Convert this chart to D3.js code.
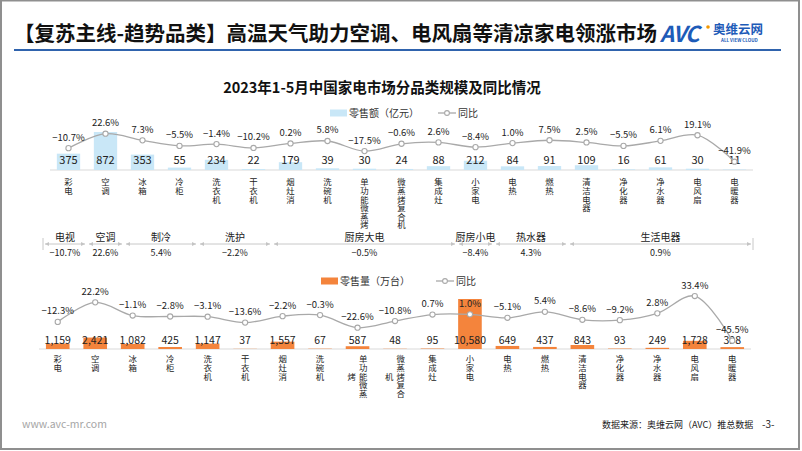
<!DOCTYPE html>
<html><head><meta charset="utf-8">
<script src="https://cdn.jsdelivr.net/npm/d3@7"></script>
<style>
body{margin:0;background:#fff}
svg{display:block}
text{font-family:"Noto Sans CJK SC","Noto Sans",sans-serif}
.vt{writing-mode:vertical-rl;text-orientation:upright}
</style>
</head><body>
<svg id="c" width="802" height="451"></svg>
<script>
// ---------------- DATA ----------------
const categories = ["彩电","空调","冰箱","冷柜","洗衣机","干衣机","烟灶消","洗碗机","单功能微蒸烤","微蒸烤复合机","集成灶","小家电","电热","燃热","清洁电器","净化器","净水器","电风扇","电暖器"];
const retailValue = [375,872,353,55,234,22,179,39,30,24,88,212,84,91,109,16,61,30,11];          // 零售额（亿元）
const retailValueYoY = [-10.7,22.6,7.3,-5.5,-1.4,-10.2,0.2,5.8,-17.5,-0.6,2.6,-8.4,1.0,7.5,2.5,-5.5,6.1,19.1,-41.9];
const retailVolume = [1159,2421,1082,425,1147,37,1557,67,587,48,95,10580,649,437,843,93,249,1728,398]; // 零售量（万台）
const retailVolumeYoY = [-12.3,22.2,-1.1,-2.8,-3.1,-13.6,-2.2,-0.3,-22.6,-10.8,0.7,1.0,-5.1,5.4,-8.6,-9.2,2.8,33.4,-45.5];
const groupNames = ["电视","空调","制冷","洗护","厨房大电","厨房小电","热水器","生活电器"];
const groupSizes = [1,1,2,2,5,1,2,5];
const groupYoY = [-10.7,22.6,5.4,-2.2,-0.5,-8.4,4.3,0.9];

const titleText = "【复苏主线-趋势品类】高温天气助力空调、电风扇等清凉家电领涨市场";
const chartTitle = "2023年1-5月中国家电市场分品类规模及同比情况";

// ---------------- STYLE ----------------
const C = {blue:"#c9e7f7", orange:"#f4843c", line:"#a9a9a9", text:"#333", brand:"#1f4fa0"};

const svg = d3.select("#c");
svg.append("rect").attr("x",1).attr("y",0.5).attr("width",798).attr("height",448.5)
  .attr("fill","none").attr("stroke","#8f8f8f").attr("stroke-width",2);

// header
svg.append("text").attr("x",14).attr("y",41).attr("font-size",20.5).attr("font-weight",700)
  .attr("fill","#111").text(titleText);
svg.append("line").attr("x1",14).attr("x2",781).attr("y1",50).attr("y2",50)
  .attr("stroke","#2f63ad").attr("stroke-width",2);
// logo
svg.append("text").attr("x",660).attr("y",42).attr("font-size",22).attr("font-weight",700)
  .attr("font-style","italic").attr("font-family","Liberation Sans, sans-serif")
  .attr("fill","#1d5bb8").attr("letter-spacing",-1).text("AVC");
svg.append("circle").attr("cx",708).attr("cy",27).attr("r",1.8).attr("fill","#f39800");
svg.append("text").attr("x",713).attr("y",34).attr("font-size",12.5).attr("font-weight",700)
  .attr("fill","#1d5bb8").text("奥维云网");
svg.append("text").attr("x",721).attr("y",42).attr("font-size",4.5).attr("font-weight",700)
  .attr("font-family","Liberation Sans, sans-serif").attr("fill","#1d5bb8").text("ALL VIEW CLOUD");

// chart title
svg.append("text").attr("x",382).attr("y",93).attr("text-anchor","middle").attr("font-size",14.5)
  .attr("font-weight",700).attr("fill","#111").text(chartTitle);

// footer
svg.append("text").attr("x",22).attr("y",428).attr("font-size",10.5).attr("fill","#a6a6a6")
  .attr("font-family","Open Sans, sans-serif").text("www.avc-mr.com");
svg.append("text").attr("x",602).attr("y",428).attr("font-size",9).attr("fill","#222")
  .text("数据来源：奥维云网（AVC）推总数据");
svg.append("text").attr("x",762).attr("y",428).attr("font-size",10).attr("fill","#222").text("-3-");

// ---------------- helpers ----------------
const VFS = 8.4, VSTEP = 8.6;
function vLabel(g, x, y0, str, maxRows, colGap){
  const chars = Array.from(str);
  const cols = [];
  for(let i=0;i<chars.length;i+=maxRows) cols.push(chars.slice(i,i+maxRows).join(""));
  const nc = cols.length, rows = Math.min(chars.length,maxRows);
  cols.forEach((col,ci)=>{
    const cx = x + ((nc-1)/2 - ci)*colGap;
    const off = (rows - Array.from(col).length)/2;
    g.append("text").attr("class","vt").attr("x",cx).attr("y",y0+off*VSTEP)
      .attr("letter-spacing",VSTEP-VFS).text(col);
  });
}

function panel(opt){
  const x = d3.scaleBand().domain(categories).range(opt.xr).paddingInner(0.37).paddingOuter(0.185);
  const yb = d3.scaleLinear().domain(opt.barDomain).range(opt.barRange);
  const yl = d3.scaleLinear().domain(opt.lineDomain).range(opt.lineRange);
  const g = svg.append("g");
  // baseline axis
  g.append("line").attr("x1",opt.xr[0]).attr("x2",opt.xr[1]).attr("y1",yb(0)).attr("y2",yb(0))
    .attr("stroke","#d9d9d9").attr("stroke-width",1);
  // bars
  g.selectAll("rect.bar").data(categories).join("rect").attr("class","bar")
    .attr("x",d=>x(d)).attr("width",x.bandwidth())
    .attr("y",(d,i)=>yb(opt.bars[i])).attr("height",(d,i)=>yb(0)-yb(opt.bars[i]))
    .attr("fill",opt.color);
  // bar value labels
  g.selectAll("text.bv").data(categories).join("text").attr("class","bv")
    .attr("x",d=>x(d)+x.bandwidth()/2).attr("y",opt.valueY).attr("text-anchor","middle")
    .attr("font-size",opt.valueFs).attr("fill","#222")
    .text((d,i)=>d3.format(",")(opt.bars[i]));
  // line
  const pts = categories.map((d,i)=>[x(d)+x.bandwidth()/2, yl(opt.yoy[i])]);
  g.append("path").attr("d",d3.line().curve(d3.curveCatmullRom.alpha(0.5))(pts))
    .attr("fill","none").attr("stroke",C.line).attr("stroke-width",1.3);
  g.selectAll("circle.pt").data(pts).join("circle").attr("class","pt")
    .attr("cx",d=>d[0]).attr("cy",d=>d[1]).attr("r",2.6)
    .attr("fill","#fff").attr("stroke",C.line).attr("stroke-width",1.1);
  g.selectAll("text.yl").data(pts).join("text").attr("class","yl")
    .attr("x",d=>d[0]).attr("y",d=>d[1]-7.5).attr("text-anchor","middle")
    .attr("font-size",9.5).attr("fill","#222")
    .text((d,i)=>d3.format(".1f")(opt.yoy[i])+"%");
  // category labels
  const lg = g.append("g").attr("font-size",VFS).attr("fill","#222");
  categories.forEach(d=>vLabel(lg, x(d)+x.bandwidth()/2, opt.catY, d, opt.maxRows, 11.5));
  // legend
  const L = opt.legend;
  g.append("rect").attr("x",L.x).attr("y",L.y-3.5).attr("width",17).attr("height",7).attr("fill",opt.color);
  g.append("text").attr("x",L.x+19).attr("y",L.y+3.5).attr("font-size",10).attr("fill","#333").text(L.label);
  g.append("line").attr("x1",L.x2).attr("x2",L.x2+18).attr("y1",L.y).attr("y2",L.y)
    .attr("stroke",C.line).attr("stroke-width",1.3);
  g.append("circle").attr("cx",L.x2+9).attr("cy",L.y).attr("r",2.4).attr("fill","#fff")
    .attr("stroke",C.line).attr("stroke-width",1.1);
  g.append("text").attr("x",L.x2+20).attr("y",L.y+3.5).attr("font-size",10).attr("fill","#333").text("同比");
  return x;
}

const xTop = panel({
  xr:[50,753], bars:retailValue, yoy:retailValueYoY, color:C.blue,
  barDomain:[0,872], barRange:[170,132],
  lineDomain:[-50,30], lineRange:[165.2,130.5],
  valueY:164, valueFs:11, catY:178, maxRows:6,
  legend:{x:330, y:113, label:"零售额（亿元）", x2:438}
});
panel({
  xr:[39,751], bars:retailVolume, yoy:retailVolumeYoY, color:C.orange,
  barDomain:[0,10580], barRange:[349,299],
  lineDomain:[-50,40], lineRange:[343.2,292.3],
  valueY:344, valueFs:10.5, catY:355, maxRows:5,
  legend:{x:321, y:281, label:"零售量（万台）", x2:436}
});

// ---------------- group row ----------------
const defs = svg.append("defs");
defs.append("marker").attr("id","arr").attr("viewBox","0 0 10 10").attr("refX",10).attr("refY",5)
  .attr("markerWidth",4).attr("markerHeight",4).attr("orient","auto-start-reverse")
  .append("path").attr("d","M0,0L10,5L0,10z").attr("fill","#c4c4c4");
const gg = svg.append("g");
const step = xTop.step(), half = step*xTop.paddingInner()/2;
let idx = 0;
const rowY = 244;
groupNames.forEach((name,gi)=>{
  const first = categories[idx], last = categories[idx+groupSizes[gi]-1];
  idx += groupSizes[gi];
  let s = xTop(first)-half, e = xTop(last)+xTop.bandwidth()+half;
  if(gi===0) s -= 7;
  gg.append("line").attr("x1",s+2).attr("x2",e-2).attr("y1",rowY).attr("y2",rowY)
    .attr("stroke","#c8c8c8").attr("stroke-width",1)
    .attr("marker-start","url(#arr)").attr("marker-end","url(#arr)");
  const cx = (s+e)/2;
  gg.append("text").attr("x",cx).attr("y",rowY-3).attr("text-anchor","middle")
    .attr("font-size",10).attr("fill","#222").text(name);
  gg.append("text").attr("x",cx).attr("y",rowY+12).attr("text-anchor","middle")
    .attr("font-size",9).attr("fill","#222").text(d3.format(".1f")(groupYoY[gi])+"%");
  if(gi===0) gg.append("line").attr("x1",s).attr("x2",s).attr("y1",rowY-6).attr("y2",rowY+6).attr("stroke","#c8c8c8");
  if(gi===groupNames.length-1) gg.append("line").attr("x1",e).attr("x2",e).attr("y1",rowY-6).attr("y2",rowY+6).attr("stroke","#c8c8c8");
});
</script>
</body></html>
